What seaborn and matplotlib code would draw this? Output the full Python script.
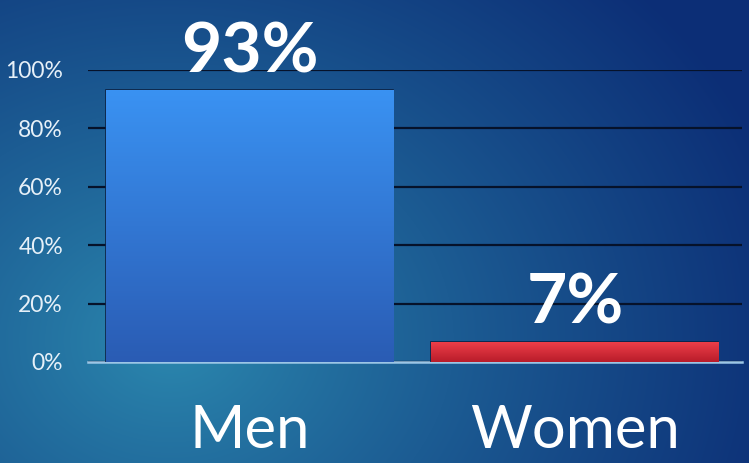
import numpy as np
import seaborn as sns
import matplotlib.pyplot as plt
from matplotlib.colors import LinearSegmentedColormap

categories = ['Men', 'Women']
shares = [93, 7]
value_labels = ['93%', '7%']
y_ticks = [0, 20, 40, 60, 80, 100]
y_tick_labels = ['0%', '20%', '40%', '60%', '80%', '100%']

sns.set_style('white')
plt.rcParams['font.family'] = ['Lato', 'DejaVu Sans']

fig = plt.figure(figsize=(7.49, 4.63), dpi=100)

# background gradient: light teal glow on the left, navy to the upper right
bg = fig.add_axes([0, 0, 1, 1], zorder=-5)
h, w = 463, 749
yy, xx = np.mgrid[0:h, 0:w]
d = np.sqrt(((xx - 170) / 640.0) ** 2 + ((yy - 340) / 520.0) ** 2)
t = np.clip(d, 0, 1) ** 0.85
light = np.array([44, 138, 176]) / 255.0
dark = np.array([12, 46, 118]) / 255.0
img = light[None, None, :] * (1 - t[..., None]) + dark[None, None, :] * t[..., None]
bg.imshow(img, aspect='auto', extent=[0, 1, 0, 1], origin='upper')
bg.axis('off')

ax = fig.add_axes([88 / 749, 1 - 362 / 463, (742 - 88) / 749, (362 - 70) / 463])
ax.set_facecolor('none')

sns.barplot(x=categories, y=shares, hue=categories, palette=['#3487e8', '#e0303c'],
            legend=False, width=0.883, edgecolor='#0c2244', linewidth=1.2,
            ax=ax, zorder=3)

# vertical gradient inside each bar
grads = [
    LinearSegmentedColormap.from_list('blue', ['#2a5cb4', '#3a92f2']),
    LinearSegmentedColormap.from_list('red', ['#b81c2a', '#f0404a']),
]
for patch, cmap in zip(ax.patches, grads):
    x0, y0 = patch.get_x(), patch.get_y()
    pw, ph = patch.get_width(), patch.get_height()
    g = np.linspace(0, 1, 100).reshape(-1, 1)
    im = ax.imshow(g, cmap=cmap, aspect='auto', origin='lower',
                   extent=[x0, x0 + pw, y0, y0 + ph], zorder=3.5)
    im.set_clip_path(patch)

ax.set_xlim(-0.498, 1.514)
ax.set_ylim(0, 100)
ax.set_yticks(y_ticks)
ax.set_yticklabels(y_tick_labels, color='#e6f0f8', fontsize=16.5)
ax.tick_params(axis='y', length=0, pad=18)
ax.set_xticks([])
ax.set_xlabel('')
ax.set_ylabel('')

ax.yaxis.grid(True, color='#06122a', linewidth=1.6, zorder=1)
ax.set_axisbelow(True)
for s in ['top', 'right', 'left']:
    ax.spines[s].set_visible(False)
ax.spines['bottom'].set_color('#9cc6e6')
ax.spines['bottom'].set_linewidth(1.8)
ax.spines['bottom'].set_zorder(2)

for i, (v, lab) in enumerate(zip(shares, value_labels)):
    ax.annotate(lab, (i, v), xytext=(0, 13), textcoords='offset points',
                ha='center', va='baseline', color='white', fontsize=50,
                fontweight='bold', annotation_clip=False, zorder=6)
    ax.text(i, -29.5, categories[i], ha='center', va='baseline', color='white',
            fontsize=43, clip_on=False, zorder=6)

fig.savefig('out.png', dpi=100)
